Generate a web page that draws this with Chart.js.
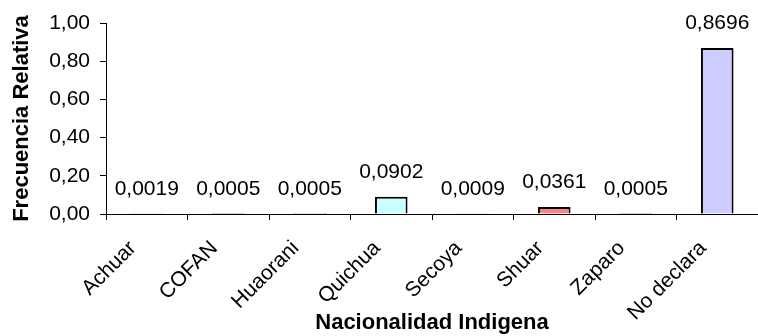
<!DOCTYPE html>
<html>
<head>
<meta charset="utf-8">
<script src="https://cdn.jsdelivr.net/npm/chart.js@4/dist/chart.umd.min.js"></script>
<style>
    html, body { margin: 0; padding: 0; background: #fff; }
    #wrap { width: 758px; height: 336px; }
</style>
</head>
<body>
<div id="wrap"><canvas id="barChart"></canvas></div>
<script>
// datos
const categories = ['Achuar', 'COFAN', 'Huaorani', 'Quichua', 'Secoya', 'Shuar', 'Zaparo', 'No declara'];
const frecuencias = [0.0019, 0.0005, 0.0005, 0.0902, 0.0009, 0.0361, 0.0005, 0.8696];
const yTicks = [0, 0.2, 0.4, 0.6, 0.8, 1.0];
const barColors = ['#9999FF', '#993366', '#FFFFCC', '#CCFFFF', '#660066', '#FF8080', '#0066CC', '#CCCCFF'];

const fontFamily = '"Liberation Sans", Arial, sans-serif';
Chart.defaults.font.family = fontFamily;
Chart.defaults.color = '#000';

function fmt(v, d) {
    return Number(v).toFixed(d).replace('.', ',');
}

// etiquetas de valor encima de cada barra
const valueLabels = {
    id: 'valueLabels',
    afterDatasetsDraw: function (chart) {
        const ctx = chart.ctx;
        const meta = chart.getDatasetMeta(0);
        ctx.save();
        ctx.font = '21px ' + fontFamily;
        ctx.fillStyle = '#000';
        ctx.textAlign = 'center';
        ctx.textBaseline = 'alphabetic';
        meta.data.forEach(function (bar, i) {
            ctx.fillText(fmt(frecuencias[i], 4), bar.x, bar.y - 19);
        });
        ctx.restore();
    }
};

const config = {
    type: 'bar',
    data: {
        labels: categories,
        datasets: [{
            label: 'Frecuencia Relativa',
            data: frecuencias,
            backgroundColor: barColors,
            borderColor: '#000',
            borderWidth: 2,
            categoryPercentage: 1,
            barPercentage: 0.4
        }]
    },
    options: {
        responsive: true,
        maintainAspectRatio: false,
        animation: false,
        layout: {
            padding: { top: 23, right: 0, bottom: 0, left: 0 }
        },
        scales: {
            x: {
                grid: { display: true, drawOnChartArea: false, tickLength: 6, color: '#000', offset: true },
                border: { color: '#000', width: 1 },
                ticks: {
                    color: '#000',
                    font: { size: 21 },
                    autoSkip: false,
                    maxRotation: 45,
                    minRotation: 45,
                    padding: 16,
                    labelOffset: -14
                },
                title: {
                    display: true,
                    text: 'Nacionalidad Indigena',
                    color: '#000',
                    font: { size: 22, weight: 'bold' },
                    padding: 0
                },
                afterFit: function (scale) { scale.height = 122; }
            },
            y: {
                min: 0,
                max: 1,
                afterBuildTicks: function (scale) {
                    scale.ticks = yTicks.map(function (v) { return { value: v }; });
                },
                grid: { display: true, drawOnChartArea: false, tickLength: 6, color: '#000' },
                border: { color: '#000', width: 1 },
                ticks: {
                    color: '#000',
                    font: { size: 21 },
                    padding: 10,
                    callback: function (v) { return fmt(v, 2); }
                },
                title: {
                    display: true,
                    text: 'Frecuencia Relativa',
                    color: '#000',
                    font: { size: 22, weight: 'bold' },
                    padding: { top: 9, bottom: 0 }
                },
                afterFit: function (scale) { scale.width = 106; }
            }
        },
        plugins: {
            legend: { display: false },
            tooltip: { enabled: false }
        }
    },
    plugins: [valueLabels]
};

new Chart(document.getElementById('barChart'), config);
</script>
</body>
</html>
